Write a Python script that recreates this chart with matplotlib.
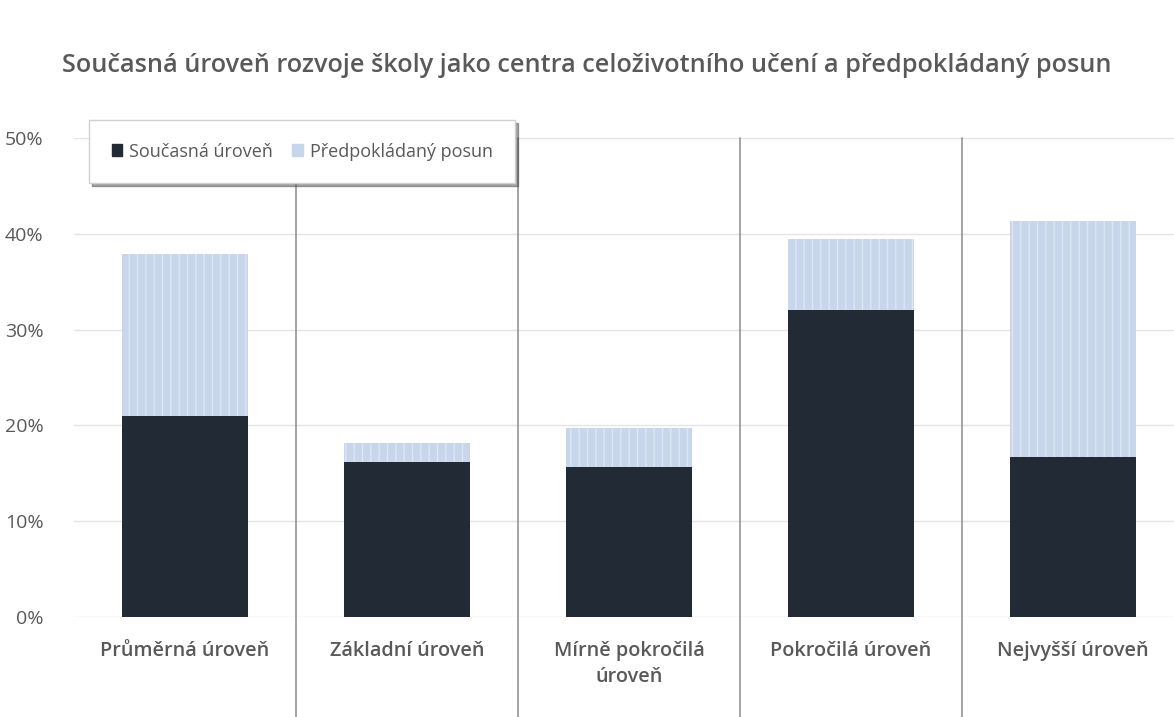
import numpy as np
import matplotlib
matplotlib.use('Agg')
import matplotlib.pyplot as plt
from matplotlib.ticker import FuncFormatter

# ── data ───────────────────────────────────────────────────────────────────────
categories = ['Průměrná úroveň', 'Základní úroveň', 'Mírně pokročilá\núroveň',
              'Pokročilá úroveň', 'Nejvyšší úroveň']
current = [21.0, 16.2, 15.7, 32.0, 16.7]     # Současná úroveň (%)
shift   = [16.9, 2.0, 4.0, 7.5, 24.6]        # Předpokládaný posun (%)
yticks  = [0, 10, 20, 30, 40, 50]

TITLE = 'Současná úroveň rozvoje školy jako centra celoživotního učení a předpokládaný posun'
DARK  = '#222a35'
LIGHT = '#c7d6eb'
GREY  = '#595959'

plt.rcParams['font.family'] = ['Open Sans', 'DejaVu Sans']
plt.rcParams['hatch.linewidth'] = 1.0

W, H = 1174, 717
fig = plt.figure(figsize=(W / 100, H / 100), dpi=100)
# axes box in pixels: x 74..1184, y 138..617
ax = fig.add_axes([74 / W, (H - 617) / H, (1184 - 74) / W, (617 - 138) / H])

x = np.arange(len(categories))
ax.bar(x, current, width=0.57, color=DARK, zorder=3)
ax.bar(x, shift, width=0.57, bottom=current, color=LIGHT,
       edgecolor='#dde7f4', hatch='||', linewidth=0, zorder=3)

ax.set_xlim(-0.5, len(categories) - 0.5)
ax.set_ylim(0, 50)
ax.set_yticks(yticks)
ax.yaxis.set_major_formatter(FuncFormatter(lambda v, _: f'{v:.0f}%'))
ax.grid(axis='y', color='#e4e4e4', lw=1, zorder=0)
for s in ax.spines.values():
    s.set_visible(False)
ax.tick_params(axis='y', length=0, labelsize=14, labelcolor=GREY, pad=22)
ax.tick_params(axis='x', length=0, labelsize=14.3, labelcolor=GREY, pad=17)
ax.set_xticks(x)
ax.set_xticklabels(categories, fontweight='semibold', linespacing=1.45,
                   va='top')

# category separators, from 50 % down to the bottom of the picture
y_low = -50 * (H - 617) / (617 - 138)
for b in x[:-1] + 0.5:
    ax.plot([b, b], [50, y_low], color='#8c8c8c', lw=1.1,
            clip_on=False, zorder=2)

fig.text(587 / W, 1 - 65 / H, TITLE, ha='center', va='center',
         fontsize=18.2, fontweight='semibold', color=GREY)

handles = [plt.Rectangle((0, 0), 1, 1, color=DARK),
           plt.Rectangle((0, 0), 1, 1, color=LIGHT)]
leg = ax.legend(handles, ['Současná úroveň', 'Předpokládaný posun'],
                loc='upper left', bbox_to_anchor=(15 / 1110, (617 - 120) / 479),
                borderaxespad=0,
                ncol=2, frameon=True, fancybox=False, shadow=True,
                fontsize=13, handlelength=0.6, handleheight=0.6,
                handletextpad=0.35, columnspacing=1.1, borderpad=1.25,
                labelcolor=GREY)
leg.get_frame().set_edgecolor('#d0d0d0')
leg.set_zorder(10)

plt.savefig('out.png', dpi=100)
plt.close()
